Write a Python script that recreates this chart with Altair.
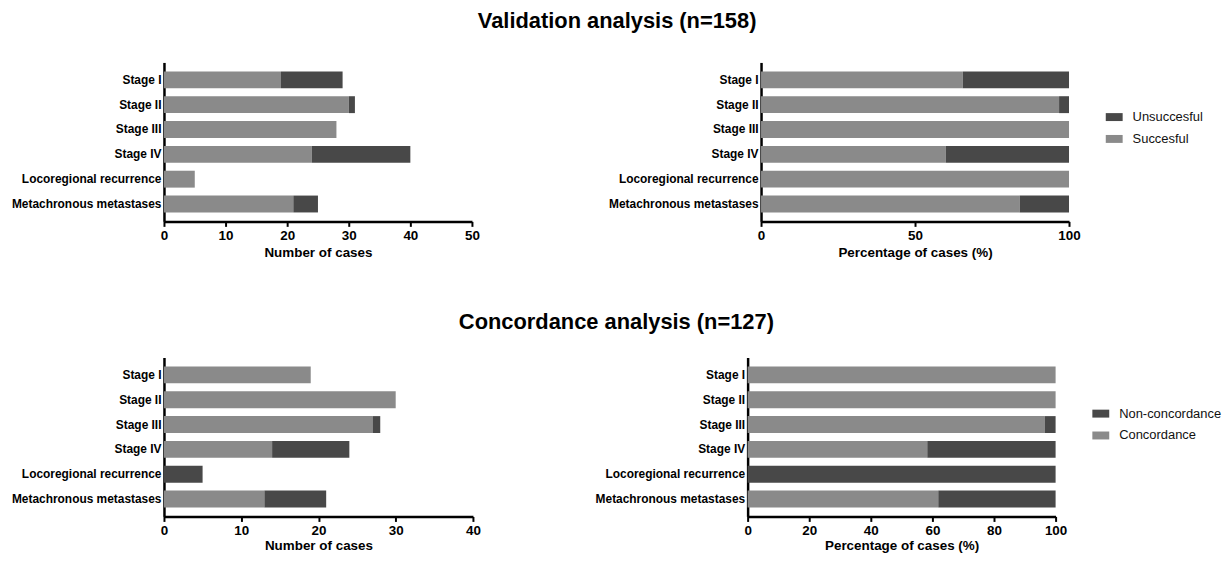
import altair as alt
import pandas as pd

categories = ["Stage I", "Stage II", "Stage III", "Stage IV",
              "Locoregional recurrence", "Metachronous metastases"]

# Validation analysis (n=158): number of cases
val_successful = [19, 30, 28, 24, 5, 21]
val_unsuccessful = [10, 1, 0, 16, 0, 4]

# Concordance analysis (n=127): number of cases
conc_concordance = [19, 30, 27, 14, 0, 13]
conc_nonconcordance = [0, 0, 1, 10, 5, 8]

DARK = "#484848"
LIGHT = "#8a8a8a"
FONT = "Liberation Sans"


def long_table(first_name, first_vals, second_name, second_vals):
    rows = []
    for cat, a, b in zip(categories, first_vals, second_vals):
        tot = a + b
        rows.append({"cat": cat, "group": first_name, "ord": 0, "n": a,
                     "pct": 100.0 * a / tot if tot else 0})
        rows.append({"cat": cat, "group": second_name, "ord": 1, "n": b,
                     "pct": 100.0 * b / tot if tot else 0})
    return pd.DataFrame(rows)


def panel(df, field, domain, ticks, xtitle, width, legend_domain, show_legend, title_pad, legend_y):
    if show_legend:
        legend = alt.Legend(title=None, orient="none", legendX=347, legendY=legend_y,
                            symbolType="M-1,-0.47H1V0.47H-1Z", symbolSize=289,
                            symbolStrokeWidth=0, labelFontSize=13, labelFont=FONT,
                            labelColor="#111", labelOffset=10, rowPadding=6,
                            padding=0)
    else:
        legend = None
    return alt.Chart(df).mark_bar().encode(
        x=alt.X(f"{field}:Q",
                scale=alt.Scale(domain=domain, nice=False, zero=True),
                axis=alt.Axis(values=ticks, title=xtitle, grid=False,
                              domainWidth=2.5, domainColor="black",
                              tickWidth=2, tickSize=5, tickColor="black",
                              labelFontSize=13.5, labelFontWeight="bold",
                              labelColor="black", labelFont=FONT, labelPadding=2,
                              titleFontSize=13.5, titleFontWeight="bold",
                              titleColor="black", titleFont=FONT, titlePadding=title_pad,
                              labelFlush=False)),
        y=alt.Y("cat:N", sort=categories,
                scale=alt.Scale(paddingInner=0.32, paddingOuter=0.36),
                axis=alt.Axis(title=None, ticks=False, domainWidth=2.5,
                              domainColor="black", labelFontSize=12,
                              labelFontWeight="bold", labelColor="black",
                              labelFont=FONT, labelPadding=3)),
        color=alt.Color("group:N",
                        scale=alt.Scale(domain=legend_domain, range=[DARK, LIGHT]),
                        legend=legend),
        order=alt.Order("ord:Q", sort="ascending"),
    ).properties(width=width, height=160)


val_df = long_table("Succesful", val_successful, "Unsuccesful", val_unsuccessful)
conc_df = long_table("Concordance", conc_concordance, "Non-concordance", conc_nonconcordance)

v1 = panel(val_df, "n", [0, 50], [0, 10, 20, 30, 40, 50], "Number of cases", 310,
           ["Unsuccesful", "Succesful"], False, 4, 46.5)
v2 = panel(val_df, "pct", [0, 100], [0, 50, 100], "Percentage of cases (%)", 310,
           ["Unsuccesful", "Succesful"], True, 4, 46.5)
c1 = panel(conc_df, "n", [0, 40], [0, 10, 20, 30, 40], "Number of cases", 311,
           ["Non-concordance", "Concordance"], False, 2, 48)
c2 = panel(conc_df, "pct", [0, 100], [0, 20, 40, 60, 80, 100], "Percentage of cases (%)", 310,
           ["Non-concordance", "Concordance"], True, 2, 48)


def section_title(text, offset, dx):
    return alt.TitleParams(text=text, anchor="middle", fontSize=22,
                           fontWeight="bold", font=FONT, color="black",
                           offset=offset, dx=dx)


top = alt.hconcat(v1, v2, spacing=129,
                  title=section_title("Validation analysis (n=158)", 30, 10)
                  ).resolve_scale(color="independent")
bottom = alt.hconcat(c1, c2, spacing=114.5,
                     title=section_title("Concordance analysis (n=127)", 24, 0)
                     ).resolve_scale(color="independent")

chart = alt.vconcat(top, bottom, spacing=52).resolve_scale(color="independent").properties(
    padding={"left": 3, "top": 0, "right": 0, "bottom": 0}
).configure(background="white", font=FONT).configure_view(strokeWidth=0, stroke="transparent")

chart.save("out.html", embed_options={"renderer": "svg", "actions": False})
